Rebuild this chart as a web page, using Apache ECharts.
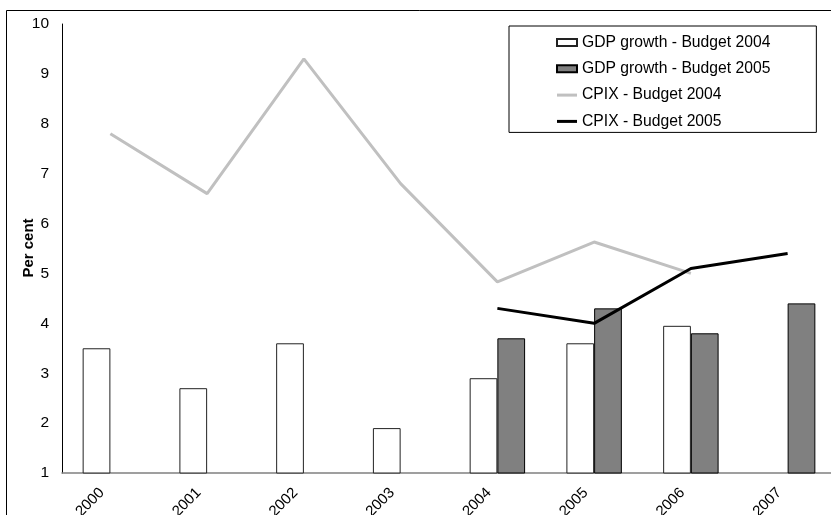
<!DOCTYPE html>
<html>
<head>
<meta charset="utf-8">
<script src="https://cdn.jsdelivr.net/npm/echarts@6/dist/echarts.min.js"></script>
<style>
  html, body { margin: 0; padding: 0; background: #fff; }
  #chart { width: 831px; height: 515px; }
</style>
</head>
<body>
<div id="chart"></div>
<script>
// Years on the category axis
const years = ['2000', '2001', '2002', '2003', '2004', '2005', '2006', '2007'];

// Real GDP growth forecasts (per cent)
const gdpBudget2004 = [3.5, 2.7, 3.6, 1.9, 2.9, 3.6, 3.95, null];
const gdpBudget2005 = [null, null, null, null, 3.7, 4.3, 3.8, 4.4];

// CPIX inflation forecasts (per cent)
const cpixBudget2004 = [7.8, 6.6, 9.3, 6.8, 4.83, 5.63, 5.0, null];
const cpixBudget2005 = [null, null, null, null, 4.3, 4.0, 5.1, 5.4];

// Value-axis range
const yMin = 1;
const yMax = 10;
const yStep = 1;

const seriesNames = [
  'GDP growth - Budget 2004',
  'GDP growth - Budget 2005',
  'CPIX - Budget 2004',
  'CPIX - Budget 2005'
];

const FONT = '"Liberation Sans", Arial, sans-serif';
// thin horizontal bar used as the legend swatch for the line series
const LINE_ICON = 'path://M0,0 L20,0 L20,3 L0,3 Z';

const chart = echarts.init(document.getElementById('chart'), null, { renderer: 'canvas' });

chart.setOption({
  animation: false,
  backgroundColor: '#ffffff',
  textStyle: { fontFamily: FONT },
  graphic: [
    {
      type: 'rect',
      silent: true,
      z: -1,
      shape: { x: 6.5, y: 10.5, width: 900, height: 600 },
      style: { fill: 'none', stroke: '#000', lineWidth: 1 }
    },
    {
      type: 'text',
      silent: true,
      x: 29,
      y: 248,
      rotation: Math.PI / 2,
      style: {
        text: 'Per cent',
        fontFamily: FONT,
        fontSize: 15,
        fontWeight: 'bold',
        fill: '#000',
        align: 'center',
        verticalAlign: 'middle'
      }
    }
  ],
  legend: {
    orient: 'vertical',
    left: 509,
    top: 26,
    padding: [8.5, 46, 3, 47],
    borderColor: '#000',
    borderWidth: 1,
    backgroundColor: '#fff',
    itemWidth: 20,
    itemHeight: 7,
    itemGap: 10.3,
    symbolKeepAspect: true,
    textStyle: { fontFamily: FONT, fontSize: 15.7, color: '#000' },
    data: [
      { name: seriesNames[0], icon: 'rect' },
      { name: seriesNames[1], icon: 'rect' },
      { name: seriesNames[2], icon: LINE_ICON, itemStyle: { color: '#c0c0c0', borderWidth: 0 } },
      { name: seriesNames[3], icon: LINE_ICON, itemStyle: { color: '#000000', borderWidth: 0 } }
    ]
  },
  grid: {
    left: 62,
    right: -5,
    top: 24,
    bottom: 42,
    containLabel: false,
    outerBoundsMode: 'none'
  },
  xAxis: {
    type: 'category',
    data: years,
    boundaryGap: true,
    axisLine: { show: true, lineStyle: { color: '#808080', width: 1.5 } },
    axisTick: { show: false },
    axisLabel: {
      rotate: 45,
      margin: 9,
      padding: [0, 12, 0, 0],
      fontFamily: FONT,
      fontSize: 15,
      color: '#000',
      interval: 0
    },
    splitLine: { show: false }
  },
  yAxis: {
    type: 'value',
    min: yMin,
    max: yMax,
    interval: yStep,
    axisLine: { show: true, lineStyle: { color: '#000', width: 1 } },
    axisTick: { show: false },
    axisLabel: {
      margin: 13,
      fontFamily: FONT,
      fontSize: 15.5,
      color: '#000'
    },
    splitLine: { show: false }
  },
  series: [
    {
      name: seriesNames[0],
      type: 'bar',
      data: gdpBudget2004,
      barGap: '0%',
      barCategoryGap: '42.7%',
      itemStyle: { color: '#ffffff', borderColor: '#222', borderWidth: 1 },
      z: 2
    },
    {
      name: seriesNames[1],
      type: 'bar',
      data: gdpBudget2005,
      barGap: '0%',
      barCategoryGap: '42.7%',
      itemStyle: { color: '#808080', borderColor: '#000', borderWidth: 1 },
      z: 2
    },
    {
      name: seriesNames[2],
      type: 'line',
      data: cpixBudget2004,
      symbol: 'none',
      connectNulls: false,
      lineStyle: { color: '#c0c0c0', width: 3 },
      itemStyle: { color: '#c0c0c0' },
      z: 3
    },
    {
      name: seriesNames[3],
      type: 'line',
      data: cpixBudget2005,
      symbol: 'none',
      connectNulls: false,
      lineStyle: { color: '#000000', width: 3 },
      itemStyle: { color: '#000000' },
      z: 4
    }
  ]
});
</script>
</body>
</html>
